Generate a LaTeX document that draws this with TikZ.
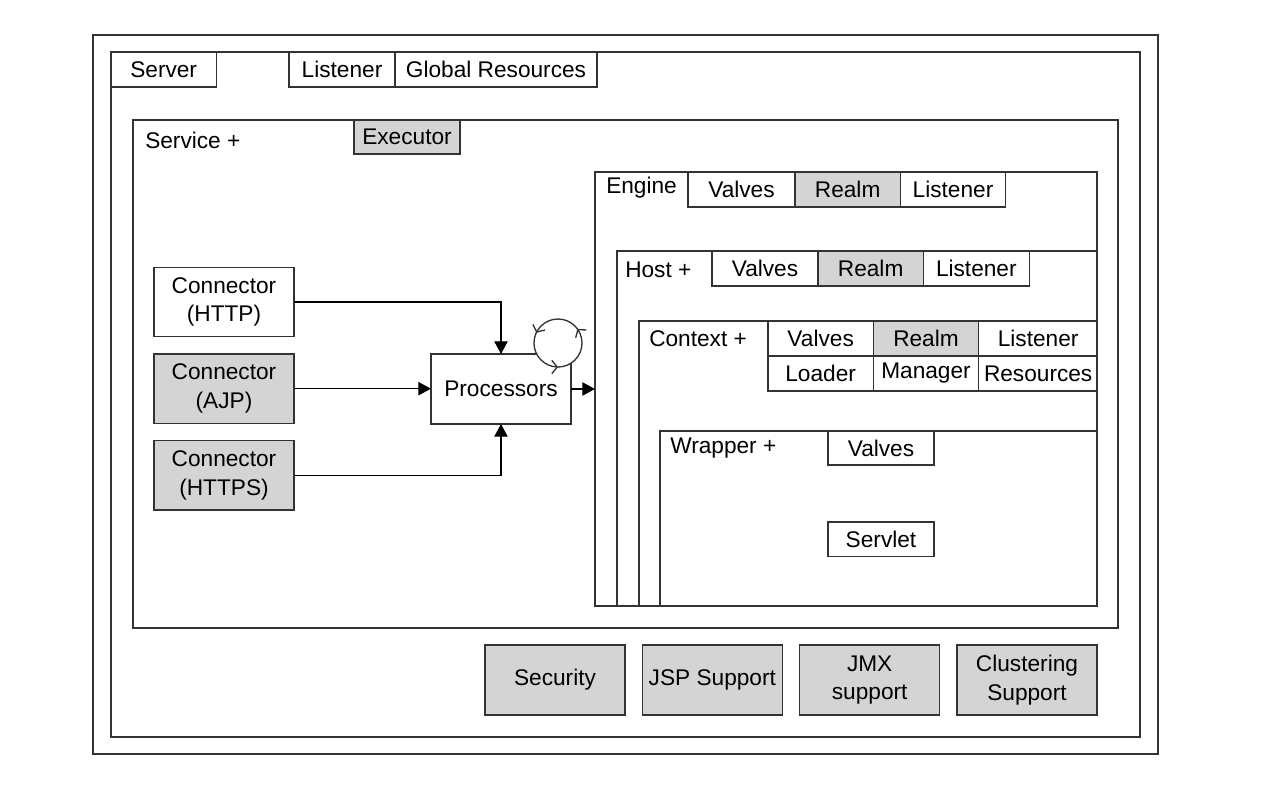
\documentclass[tikz,border=0pt]{standalone}
\usepackage{fontspec}
\setmainfont{Liberation Sans}
\usetikzlibrary{positioning,arrows.meta,decorations.markings}

\tikzset{
  frame/.style={draw=black!80, line width=1pt},
  tab/.style={frame, minimum width=79pt, minimum height=26.25pt,
    inner sep=0pt, outer sep=0pt, anchor=north west},
  grey/.style={fill=black!17},
  unit/.style={frame, minimum width=105pt, minimum height=52pt,
    align=center, inner sep=0pt, outer sep=0pt},
  caption/.style={anchor=west, inner sep=0pt},
  flow/.style={-{Triangle[length=9.5pt,width=10pt]}, draw=black, line width=0.9pt},
  turn/.style={decoration={markings,
    mark=at position 0.1 with {\arrow{Straight Barb[length=4pt,width=10pt]}},
    mark=at position 0.43 with {\arrow{Straight Barb[length=4pt,width=10pt]}},
    mark=at position 0.75 with {\arrow{Straight Barb[length=4pt,width=10pt]}}},
    postaction={decorate}},
}

\begin{document}
\begin{tikzpicture}[x=0.75pt, y=-0.75pt, font=\fontsize{17}{21.5}\selectfont]
  \useasboundingbox (0,0) rectangle (1286,790);

  % nested containers
  \draw[frame] (93,35) rectangle (1158,754);
  \draw[frame] (111,52) rectangle (1140,737);
  \draw[frame] (133,120) rectangle (1118,628);
  \draw[frame] (595,172) rectangle (1097,606);
  \draw[frame] (617,251) rectangle (1097,606);
  \draw[frame] (639,321) rectangle (1097,606);
  \draw[frame] (660,431) rectangle (1097,606);
  \coordinate (engine) at (595,172);

  % server
  \node[tab] (server) at (111,52) {Server};
  \node[tab, minimum width=79.5pt] (srvlistener) at (289,52) {Listener};
  \node[tab, minimum width=151.5pt, right=0pt of srvlistener] (globalres) {Global Resources};

  % service
  \node[caption] (service) at (145,140) {Service +};
  \node[tab, grey, minimum width=79.5pt, minimum height=25.5pt] (executor) at (354,120) {Executor};

  % engine
  \node[caption] (enginelbl) at (606,188) {Engine};
  \node[tab, minimum width=80.25pt] (engvalves) at (688,172) {Valves};
  \node[tab, grey, right=0pt of engvalves] (engrealm) {Realm};
  \node[tab, right=0pt of engrealm] (englistener) {Listener};

  % host
  \node[caption] (host) at (625,270) {Host +};
  \node[tab, minimum width=79.5pt] (hostvalves) at (712,251) {Valves};
  \node[tab, grey, right=0pt of hostvalves] (hostrealm) {Realm};
  \node[tab, minimum width=79.5pt, right=0pt of hostrealm] (hostlistener) {Listener};

  % context
  \node[caption] (context) at (649,339) {Context +};
  \node[tab] (ctxvalves) at (768,321) {Valves};
  \node[tab, grey, right=0pt of ctxvalves] (ctxrealm) {Realm};
  \node[tab, minimum width=89.25pt, right=0pt of ctxrealm] (ctxlistener) {Listener};
  \node[tab, below=0pt of ctxvalves] (loader) {Loader};
  \node[tab, below=0pt of ctxrealm] (manager) {Manager};
  \node[tab, minimum width=89.25pt, below=0pt of ctxlistener] (resources) {Resources};

  % wrapper
  \node[caption] (wrapper) at (670,448) {Wrapper +};
  \node[tab, minimum width=79.5pt, minimum height=25.5pt] (wrapvalves) at (828,431) {Valves};
  \node[tab, minimum width=79.5pt, minimum height=26pt] (servlet) at (828,522) {Servlet};

  % connectors
  \node[unit] (http) at (224,302) {Connector\\(HTTP)};
  \node[unit, grey, below=13pt of http] (ajp) {Connector\\(AJP)};
  \node[unit, grey, below=13pt of ajp] (https) {Connector\\(HTTPS)};
  \node[unit, minimum height=52.5pt] (proc) at (501,389) {Processors};
  \draw[frame, fill=white, turn] (558,343) circle[radius=18pt];

  \draw[flow] (http.east) -| (proc.north);
  \draw[flow] (ajp.east) -- (ajp.east -| proc.west);
  \draw[flow] (https.east) -| (proc.south);
  \draw[flow] (proc.east) -- (proc.east -| engine);

  % support modules
  \node[unit, grey, minimum height=52.5pt] (security) at (555,680) {Security};
  \node[unit, grey, minimum height=52.5pt, right=13pt of security] (jsp) {JSP Support};
  \node[unit, grey, minimum height=52.5pt, right=13pt of jsp] (jmx) {JMX\\support};
  \node[unit, grey, minimum height=52.5pt, right=13pt of jmx] (cluster) {Clustering\\Support};
\end{tikzpicture}
\end{document}
